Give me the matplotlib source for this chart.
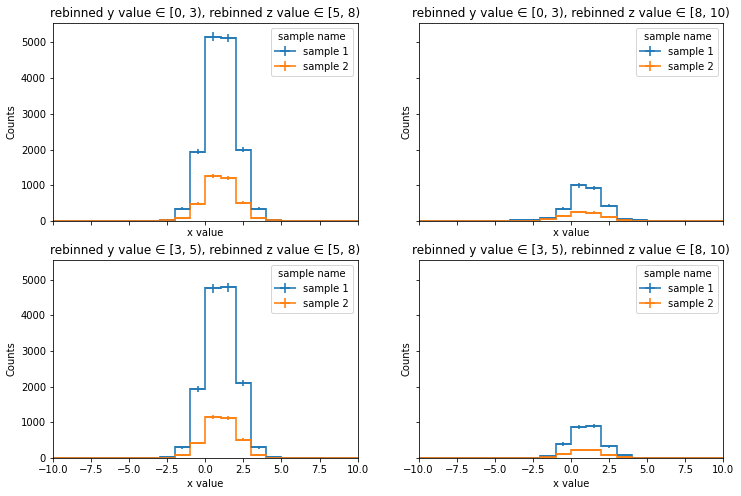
import numpy as np
import matplotlib
matplotlib.use("Agg")
import matplotlib.pyplot as plt
from matplotlib.lines import Line2D

# bin edges of x value
edges = np.arange(-10, 11, 1)

# counts per bin (only bins -4..5 are non-empty)
# tl: y in [0,3), z in [5,8); tr: y in [0,3), z in [8,10)
# bl: y in [3,5), z in [5,8); br: y in [3,5), z in [8,10)
s1_tl = [0]*7 + [30, 338, 1942, 5160, 5122, 1998, 338, 30] + [0]*5
s2_tl = [0]*7 + [15, 75, 478, 1266, 1210, 506, 84, 20] + [0]*5
s1_tr = [0]*6 + [25, 25, 94, 347, 994, 929, 431, 66, 28] + [0]*5
s2_tr = [0]*6 + [5, 8, 47, 131, 253, 234, 122, 38, 10] + [0]*5
s1_bl = [0]*7 + [28, 300, 1932, 4756, 4784, 2110, 300, 28] + [0]*5
s2_bl = [0]*7 + [10, 84, 422, 1154, 1126, 516, 84, 10] + [0]*5
s1_br = [0]*8 + [47, 394, 873, 901, 329, 75] + [0]*6
s2_br = [0]*8 + [19, 103, 225, 225, 84, 15] + [0]*6

# error bars
e1_tl = [0]*7 + [15, 40, 80, 120, 120, 80, 40, 15] + [0]*5
e2_tl = [0]*7 + [10, 20, 40, 60, 60, 40, 20, 10] + [0]*5
e1_tr = [0]*6 + [12, 12, 25, 45, 60, 60, 45, 20, 12] + [0]*5
e2_tr = [0]*6 + [5, 5, 15, 25, 35, 35, 25, 15, 8] + [0]*5
e1_bl = [0]*7 + [15, 40, 80, 120, 120, 80, 40, 15] + [0]*5
e2_bl = [0]*7 + [8, 20, 40, 60, 60, 40, 20, 8] + [0]*5
e1_br = [0]*8 + [15, 45, 55, 55, 40, 20] + [0]*6
e2_br = [0]*8 + [10, 25, 35, 35, 20, 8] + [0]*6

titles = [
    "rebinned y value \u2208 [0, 3), rebinned z value \u2208 [5, 8)",
    "rebinned y value \u2208 [0, 3), rebinned z value \u2208 [8, 10)",
    "rebinned y value \u2208 [3, 5), rebinned z value \u2208 [5, 8)",
    "rebinned y value \u2208 [3, 5), rebinned z value \u2208 [8, 10)",
]
samples = ["sample 1", "sample 2"]
panels = [
    (s1_tl, e1_tl, s2_tl, e2_tl),
    (s1_tr, e1_tr, s2_tr, e2_tr),
    (s1_bl, e1_bl, s2_bl, e2_bl),
    (s1_br, e1_br, s2_br, e2_br),
]
colors = ["#1f77b4", "#ff7f0e"]

fig, axes = plt.subplots(2, 2, figsize=(741/72, 496/72), dpi=72, sharex=True, sharey=True)
fig.subplots_adjust(left=0.0715, right=0.976, top=0.954, bottom=0.0766, wspace=0.2, hspace=0.197)

centers = (edges[:-1] + edges[1:]) / 2
for ax, title, (c1, err1, c2, err2) in zip(axes.flat, titles, panels):
    handles = []
    for counts, errs, col in [(c1, err1, colors[0]), (c2, err2, colors[1])]:
        counts = np.array(counts, dtype=float)
        errs = np.array(errs, dtype=float)
        ax.stairs(counts, edges, color=col, alpha=0.8, linewidth=2)
        eb = ax.errorbar(centers, counts, yerr=errs, xerr=0.5, fmt="none", ecolor=col, alpha=0.8,
                         elinewidth=2)
        # legend handle: step line with the error cross on top
        handles.append((Line2D([], [], color=col, alpha=0.8, linewidth=2), eb))
    ax.set_title(title, fontsize=12)
    ax.set_xlabel("x value")
    ax.set_ylabel("Counts")
    ax.xaxis.set_tick_params(labelbottom=ax in axes[1])
    ax.yaxis.set_tick_params(labelleft=ax in axes[:, 0])
    ax.legend(handles, samples, title="sample name", loc="upper right")

axes[0, 0].set_xlim(-10, 10)
axes[0, 0].set_ylim(0, 5550)

fig.savefig("out.png", dpi=72)
